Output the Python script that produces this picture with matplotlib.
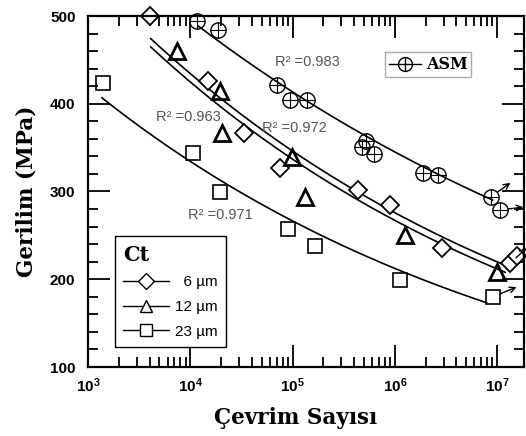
import numpy as np
import matplotlib
matplotlib.use('Agg')
import matplotlib.pyplot as plt
from matplotlib.lines import Line2D
from matplotlib.ticker import FixedLocator, LogLocator, MultipleLocator, NullFormatter

plt.rcParams['font.family'] = ['Liberation Sans', 'DejaVu Sans']
plt.rcParams['mathtext.fontset'] = 'custom'
plt.rcParams['mathtext.rm'] = 'Liberation Sans:bold'
plt.rcParams['mathtext.it'] = 'Liberation Sans:bold'

# veri
n_6 = [4.0e3, 1.49e4, 3.35e4, 7.5e4, 4.4e5, 9.0e5, 2.9e6, 1.33e7, 1.55e7]
s_6 = [500, 426, 367, 327, 302, 285, 236, 218, 226]
n_12 = [7.4e3, 1.95e4, 2.05e4, 9.9e4, 1.32e5, 1.26e6, 9.95e6]
s_12 = [460, 415, 367, 339, 294, 250, 208]
n_23 = [1.4e3, 1.06e4, 1.95e4, 9.0e4, 1.66e5, 1.12e6, 9.1e6]
s_23 = [424, 344, 299, 257, 238, 199, 180]
n_asm = [1.16e4, 1.87e4, 7.05e4, 9.4e4, 1.38e5, 4.8e5, 5.2e5, 6.25e5, 1.88e6, 2.64e6, 8.7e6, 1.06e7]
s_asm = [494, 484, 421, 404, 404, 351, 358, 343, 321, 319, 294, 279]

# egri uydurma: S = A * N^b
fit_A = {'asm': 1022, '6': 1077, '12': 1075, '23': 829}
fit_b = {'asm': -0.0786, '6': -0.0986, '12': -0.1008, '23': -0.0986}
fit_range = {'asm': (1.2e4, 9.0e6), '6': (4.1e3, 1.2e7), '12': (4.1e3, 1.2e7), '23': (1.37e3, 7.9e6)}
r2_text = {'asm': 'R² =0.983', '6': 'R² =0.963', '12': 'R² =0.972', '23': 'R² =0.971'}

fig = plt.figure(figsize=(5.26, 4.36), dpi=100)
ax = fig.add_axes([88/526, 1-367/436, 436/526, 351/436])

for key in ['asm', '6', '12', '23']:
    lo, hi = fit_range[key]
    nn = np.logspace(np.log10(lo), np.log10(hi), 200)
    ax.plot(nn, fit_A[key] * nn ** fit_b[key], color='black', lw=1.2)

ax.plot(n_6, s_6, 'D', ms=9.5, mfc='white', mec='black', mew=1.3, ls='none', clip_on=False)
ax.plot(n_12, s_12, '^', ms=12, mfc='none', mec='black', mew=2.0, ls='none', clip_on=False)
ax.plot(n_23, s_23, 's', ms=10.5, mfc='none', mec='black', mew=1.2, ls='none', clip_on=False)
ax.plot(n_asm, s_asm, 'o', ms=11, mfc='none', mec='black', mew=1.0, ls='none', clip_on=False)
ax.plot(n_asm, s_asm, '+', ms=11, mec='black', mew=0.8, ls='none', clip_on=False)

# kirilmayan numuneler (oklar)
for (x, y, dx, dy) in [(n_asm[-2], s_asm[-2], 14, 10), (n_asm[-1], s_asm[-1], 17, 2),
                       (n_6[-2], s_6[-2], 12, 11), (n_23[-1], s_23[-1], 17, 7)]:
    ax.annotate('', xy=(x, y), xytext=(dx, dy), textcoords='offset points',
                arrowprops=dict(arrowstyle='<-', lw=1.0, color='black', shrinkA=0, shrinkB=6))

# R^2 yazilari
ax.text(6.7e4, 448, r2_text['asm'], fontsize=10.5, color='#555555', va='center')
ax.text(4.6e3, 385, r2_text['6'], fontsize=10.5, color='#555555', va='center')
ax.text(5.0e4, 372, r2_text['12'], fontsize=10.5, color='#555555', va='center')
ax.text(9.5e3, 273, r2_text['23'], fontsize=10.5, color='#555555', va='center')

ax.set_xscale('log')
ax.set_xlim(1e3, 1.83e7)
ax.set_ylim(100, 500)
ax.xaxis.set_major_locator(FixedLocator([1e3, 1e4, 1e5, 1e6, 1e7]))
ax.set_xticklabels([r'$\mathrm{10^{3}}$', r'$\mathrm{10^{4}}$', r'$\mathrm{10^{5}}$',
                    r'$\mathrm{10^{6}}$', r'$\mathrm{10^{7}}$'])
ax.xaxis.set_minor_locator(LogLocator(base=10, subs=np.arange(2, 10)))
ax.xaxis.set_minor_formatter(NullFormatter())
ax.yaxis.set_major_locator(MultipleLocator(100))
ax.yaxis.set_minor_locator(MultipleLocator(20))
ax.tick_params(which='both', direction='in', top=True, right=True, width=1.3)
ax.tick_params(which='major', length=16, labelsize=11, pad=7)
ax.tick_params(which='minor', length=7)
ax.tick_params(axis='y', which='major', pad=9)
for lab in ax.get_yticklabels():
    lab.set_fontweight('bold')
for sp in ax.spines.values():
    sp.set_linewidth(1.6)

ax.set_xlabel('Çevrim Sayısı', family='DejaVu Serif', fontweight='bold', fontsize=15.5)
ax.set_ylabel('Gerilim (MPa)', family='DejaVu Serif', fontweight='bold', fontsize=15.5)
ax.xaxis.set_label_coords(0.475, -0.114)
ax.yaxis.set_label_coords(-0.115, 0.5)

# Ct lejanti
h6 = Line2D([], [], marker='D', ms=8, mfc='white', mec='black', color='black', lw=1.0)
h12 = Line2D([], [], marker='^', ms=8, mfc='white', mec='black', color='black', lw=1.0)
h23 = Line2D([], [], marker='s', ms=8, mfc='white', mec='black', color='black', lw=1.0)
leg = ax.legend([h6, h12, h23], ['  6 µm', '12 µm', '23 µm'], loc='lower left',
                bbox_to_anchor=(0.062, 0.057), borderaxespad=0, title='Ct', alignment='left',
                title_fontproperties={'family': 'DejaVu Serif', 'weight': 'bold', 'size': 15},
                fontsize=11, handlelength=3.0, handletextpad=0.4, labelspacing=0.7,
                fancybox=False, framealpha=1, edgecolor='black', borderpad=0.55)
leg.get_frame().set_linewidth(1.0)
ax.add_artist(leg)

# ASM lejanti
ha = (Line2D([], [], marker='o', ms=10, mfc='white', mec='black', color='black', lw=1.0),
      Line2D([], [], marker='+', ms=10, mec='black', ls='none'))
leg2 = ax.legend([ha], ['ASM'], loc='upper left', bbox_to_anchor=(0.681, 0.897),
                 borderaxespad=0, prop={'family': 'DejaVu Serif', 'weight': 'bold', 'size': 11.5},
                 handlelength=2.0, handletextpad=0.3, fancybox=False, framealpha=1,
                 edgecolor='#aaaaaa', borderpad=0.25)
leg2.get_frame().set_linewidth(1.0)

fig.savefig('out.png', dpi=100)
